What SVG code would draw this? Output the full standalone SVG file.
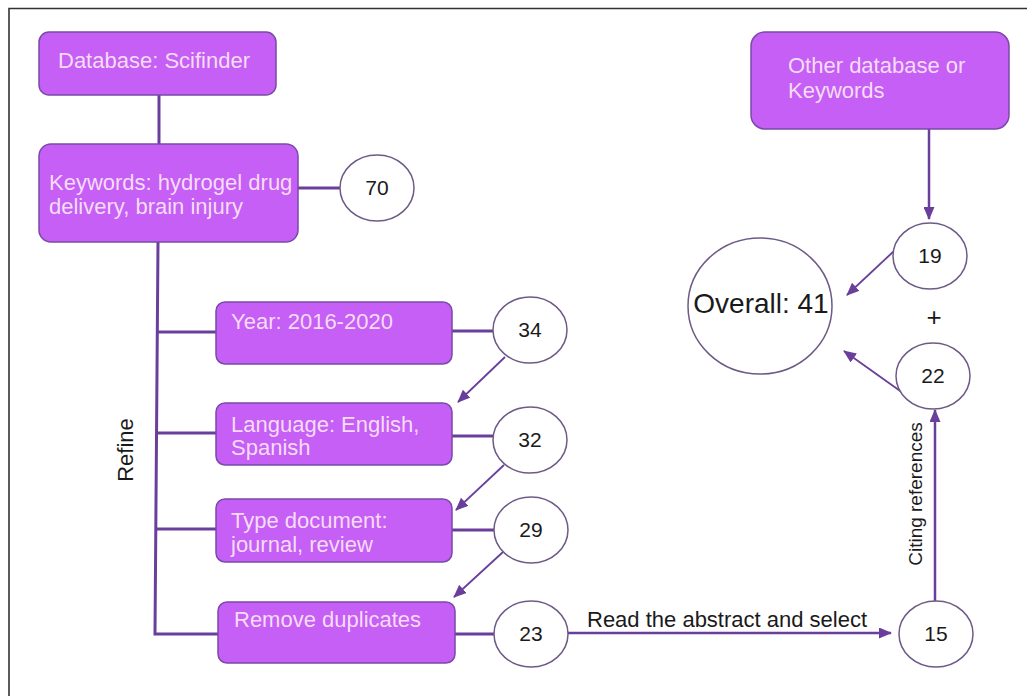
<svg xmlns="http://www.w3.org/2000/svg" width="1027" height="696" viewBox="0 0 1027 696">
<style>
.box{fill:#c55ff5;stroke:#7a4aa8;stroke-width:1.5}
.bt{font-family:"Liberation Sans",Arial,sans-serif;font-size:22px;fill:#f6dcf7}
.circ{fill:#ffffff;stroke:#6e5a86;stroke-width:1.5}
.ct{font-family:"Liberation Sans",Arial,sans-serif;font-size:21px;fill:#1a1a1a;text-anchor:middle}
.lbl{font-family:"Liberation Sans",Arial,sans-serif;fill:#1a1a1a}
.ln{fill:none;stroke:#6a3f9c;stroke-width:3}
.ar{fill:none;stroke:#6a3f9c;stroke-width:2.5}
.dg{fill:none;stroke:#6a3f9c;stroke-width:1.8}
</style>
<defs>
<marker id="ah" markerUnits="userSpaceOnUse" markerWidth="13" markerHeight="11" refX="12" refY="5.5" orient="auto">
<path d="M0,0 L13,5.5 L0,11 z" fill="#6a3f9c"/>
</marker>
</defs>
<rect width="1027" height="696" fill="#ffffff"/>
<path d="M9,696 L9,8.5 L1027,8.5" fill="none" stroke="#333333" stroke-width="1.6"/>

<g id="connectors">
<line class="ln" x1="159" y1="95" x2="159" y2="145"/>
<line class="ln" x1="298" y1="188" x2="340" y2="188"/>
<path class="ln" d="M158,242 L155,634 L218,634"/>
<line class="ln" x1="156" y1="332" x2="216" y2="332"/>
<line class="ln" x1="156" y1="433" x2="216" y2="433"/>
<line class="ln" x1="155" y1="529" x2="216" y2="529"/>
<line class="ln" x1="452" y1="331" x2="493" y2="331"/>
<line class="ln" x1="452" y1="436" x2="493" y2="436"/>
<line class="ln" x1="452" y1="530" x2="494" y2="530"/>
<line class="ln" x1="455" y1="634" x2="495" y2="634"/>
<line class="dg" x1="505" y1="357" x2="458" y2="402" marker-end="url(#ah)"/>
<line class="dg" x1="504" y1="465" x2="456" y2="510" marker-end="url(#ah)"/>
<line class="dg" x1="503" y1="552" x2="454" y2="597" marker-end="url(#ah)"/>
<line class="ar" x1="568" y1="633" x2="891" y2="633" marker-end="url(#ah)"/>
<line class="ar" x1="935" y1="601" x2="935" y2="410" marker-end="url(#ah)"/>
<line class="ar" x1="929" y1="129" x2="929" y2="219" marker-end="url(#ah)"/>
<line class="dg" x1="894" y1="251" x2="847" y2="295" marker-end="url(#ah)"/>
<line class="dg" x1="903" y1="393" x2="844" y2="351" marker-end="url(#ah)"/>
<text class="lbl" x="587" y="627" font-size="22">Read the abstract and select</text>
<text class="lbl" font-size="19" text-anchor="middle" transform="translate(922,494) rotate(-90)">Citing references</text>
<text class="lbl" font-size="22" text-anchor="middle" transform="translate(133,450) rotate(-90)">Refine</text>
<text class="lbl" x="934" y="326" font-size="26" text-anchor="middle">+</text>
</g>

<g id="n-database">
<rect class="box" x="39" y="32" width="237" height="63" rx="10"/>
<text class="bt" x="58" y="68">Database: Scifinder</text>
</g>
<g id="n-keywords">
<rect class="box" x="39" y="144" width="259" height="98" rx="12"/>
<text class="bt" x="49" y="190">Keywords: hydrogel drug</text>
<text class="bt" x="49" y="214">delivery, brain injury</text>
</g>
<g id="n-year">
<rect class="box" x="216" y="302" width="236" height="62" rx="9"/>
<text class="bt" x="231" y="329">Year: 2016-2020</text>
</g>
<g id="n-language">
<rect class="box" x="216" y="403" width="236" height="62" rx="9"/>
<text class="bt" x="231" y="432">Language: English,</text>
<text class="bt" x="231" y="455">Spanish</text>
</g>
<g id="n-type">
<rect class="box" x="216" y="499" width="236" height="63" rx="9"/>
<text class="bt" x="231" y="528">Type document:</text>
<text class="bt" x="231" y="552">journal, review</text>
</g>
<g id="n-remove">
<rect class="box" x="218" y="602" width="237" height="61" rx="9"/>
<text class="bt" x="234" y="627">Remove duplicates</text>
</g>
<g id="n-other">
<rect class="box" x="751" y="32" width="258" height="97" rx="14"/>
<text class="bt" x="788" y="73">Other database or</text>
<text class="bt" x="788" y="98">Keywords</text>
</g>

<g id="c70"><ellipse class="circ" cx="377" cy="188" rx="37" ry="33"/><text class="ct" x="377" y="195">70</text></g>
<g id="c34"><ellipse class="circ" cx="530" cy="330" rx="37" ry="33"/><text class="ct" x="530" y="337">34</text></g>
<g id="c32"><ellipse class="circ" cx="530" cy="440" rx="37" ry="33"/><text class="ct" x="530" y="447">32</text></g>
<g id="c29"><ellipse class="circ" cx="531" cy="530" rx="37" ry="33"/><text class="ct" x="531" y="537">29</text></g>
<g id="c23"><ellipse class="circ" cx="531" cy="634" rx="37" ry="33"/><text class="ct" x="531" y="641">23</text></g>
<g id="c15"><ellipse class="circ" cx="936" cy="634" rx="37" ry="33"/><text class="ct" x="936" y="641">15</text></g>
<g id="c22"><ellipse class="circ" cx="933" cy="376" rx="37" ry="33"/><text class="ct" x="933" y="383">22</text></g>
<g id="c19"><ellipse class="circ" cx="930" cy="256" rx="37" ry="33"/><text class="ct" x="930" y="263">19</text></g>
<g id="c-overall"><ellipse class="circ" cx="760" cy="306" rx="72" ry="68"/><text class="lbl" x="761" y="313" font-size="28" text-anchor="middle">Overall: 41</text></g>
</svg>
